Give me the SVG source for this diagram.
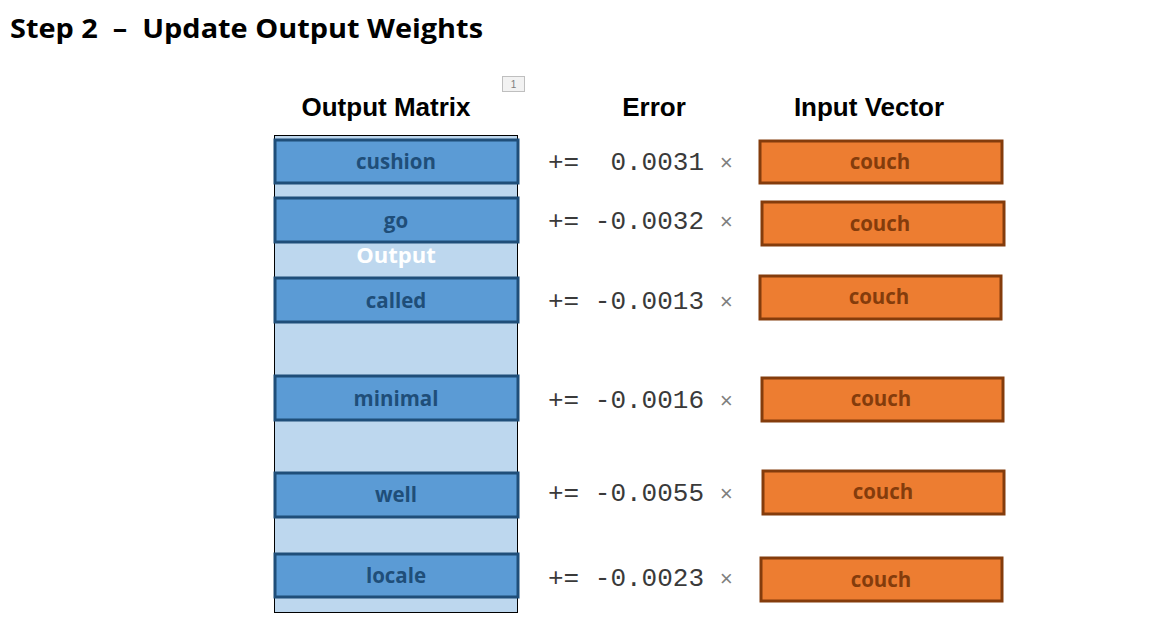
<svg xmlns="http://www.w3.org/2000/svg" width="1163" height="632" viewBox="0 0 1163 632">
<style>
.title{font-family:"Open Sans",Lato,sans-serif;font-weight:bold;font-size:27px;fill:#000;white-space:pre}
.hdr{font-family:"Liberation Sans",Arial,sans-serif;font-weight:bold;font-size:26px;fill:#000;text-anchor:middle}
.row rect{fill:#5B9BD5;stroke:#1F4E79;stroke-width:3}
.row text{font-family:"Open Sans",Lato,sans-serif;font-weight:bold;font-size:20.5px;fill:#1F4E79;text-anchor:middle}
.vec rect{fill:#ED7D31;stroke:#843C0C;stroke-width:3}
.vec text{font-family:"Open Sans",Lato,sans-serif;font-weight:bold;font-size:20.5px;fill:#843C0C;text-anchor:middle}
.err{font-family:"Liberation Mono","Courier New",monospace;font-size:26px;fill:#3A3A3A;white-space:pre}
.x{fill:#7F7F7F;font-size:22px}
</style>
<rect width="1163" height="632" fill="#fff"/>
<text class="title" x="10" y="38" textLength="473" lengthAdjust="spacingAndGlyphs">Step 2  –  Update Output Weights</text>
<g id="badge"><rect x="502.5" y="76.5" width="22" height="15" fill="#F2F2F2" stroke="#BFBFBF"/><text x="513.5" y="88" font-family="Liberation Sans,Arial,sans-serif" font-size="10" fill="#7F7F7F" text-anchor="middle">1</text></g>
<text class="hdr" x="386" y="116">Output Matrix</text>
<text class="hdr" x="654" y="116">Error</text>
<text class="hdr" x="869" y="116">Input Vector</text>
<g id="matrix"><rect x="274.5" y="135.5" width="243" height="477" fill="#BDD7EE" stroke="#000" stroke-width="1"/>
<text x="396" y="263" font-family="'Open Sans',Lato,sans-serif" font-weight="bold" font-size="22" fill="#fff" text-anchor="middle">Output</text></g>
<g id="row-cushion" class="row"><rect x="275" y="140" width="243" height="43"/><text x="396" y="169">cushion</text></g>
<g id="row-go" class="row"><rect x="275" y="198" width="243" height="44"/><text x="396" y="228">go</text></g>
<g id="row-called" class="row"><rect x="275" y="278" width="243" height="44"/><text x="396" y="308">called</text></g>
<g id="row-minimal" class="row"><rect x="275" y="376" width="243" height="44"/><text x="396" y="406">minimal</text></g>
<g id="row-well" class="row"><rect x="275" y="473" width="243" height="44"/><text x="396" y="502">well</text></g>
<g id="row-locale" class="row"><rect x="275" y="554" width="243" height="43"/><text x="396" y="583">locale</text></g>
<g id="errors">
<text class="err" x="548" y="170">+=  0.0031 <tspan class="x">×</tspan></text>
<text class="err" x="548" y="229">+= -0.0032 <tspan class="x">×</tspan></text>
<text class="err" x="548" y="309">+= -0.0013 <tspan class="x">×</tspan></text>
<text class="err" x="548" y="408">+= -0.0016 <tspan class="x">×</tspan></text>
<text class="err" x="548" y="501">+= -0.0055 <tspan class="x">×</tspan></text>
<text class="err" x="548" y="586">+= -0.0023 <tspan class="x">×</tspan></text>
</g>
<g id="vec1" class="vec"><rect x="760" y="141" width="242" height="42"/><text x="880" y="169">couch</text></g>
<g id="vec2" class="vec"><rect x="762" y="202" width="242" height="43"/><text x="880" y="231">couch</text></g>
<g id="vec3" class="vec"><rect x="760" y="276" width="241" height="43"/><text x="879" y="304">couch</text></g>
<g id="vec4" class="vec"><rect x="762" y="378" width="241" height="43"/><text x="881" y="406">couch</text></g>
<g id="vec5" class="vec"><rect x="763" y="471" width="241" height="43"/><text x="883" y="499">couch</text></g>
<g id="vec6" class="vec"><rect x="761" y="558" width="241" height="43"/><text x="881" y="587">couch</text></g>
<g id="connectors"/>
</svg>
